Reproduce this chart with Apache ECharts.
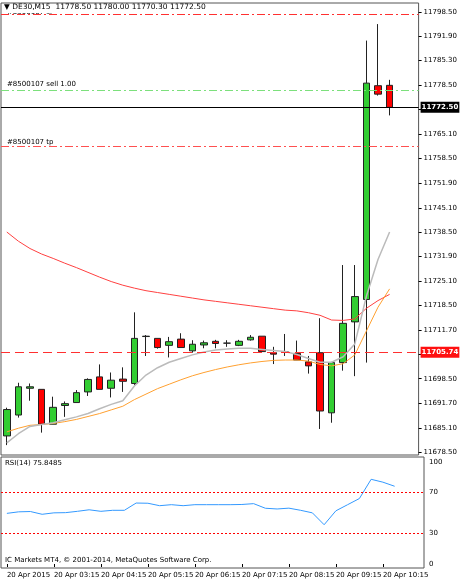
<!DOCTYPE html>
<html>
<head>
<meta charset="utf-8">
<script src="https://cdn.jsdelivr.net/npm/echarts@6/dist/echarts.min.js"></script>
<style>html,body{margin:0;padding:0;background:#fff}#chart{width:460px;height:582px}</style>
</head>
<body>
<div id="chart"></div>
<script>
var times = ['20 Apr 2015','02:30','02:45','03:00','20 Apr 03:15','03:30','03:45','04:00','20 Apr 04:15','04:30','04:45','05:00',
  '20 Apr 05:15','05:30','05:45','06:00','20 Apr 06:15','06:30','06:45','07:00','20 Apr 07:15','07:30','07:45','08:00',
  '20 Apr 08:15','08:30','08:45','09:00','20 Apr 09:15','09:30','09:45','10:00','20 Apr 10:15','10:30','10:45','11:00'];
// open, close, low, high
var ohlc = [
  [11682.9,11690.1,11680.4,11690.6],[11688.6,11696.3,11687.9,11697.4],[11695.9,11696.3,11692.5,11697.2],
  [11695.6,11686.1,11683.8,11695.6],[11686.1,11690.7,11686.1,11693.6],[11691.2,11691.7,11688.1,11692.3],
  [11692.0,11694.7,11692.0,11695.4],[11694.9,11698.3,11693.8,11698.6],[11699.0,11695.6,11695.6,11702.4],
  [11695.9,11698.1,11693.4,11700.2],[11698.4,11697.8,11694.9,11701.6],[11697.2,11709.5,11696.8,11716.6],
  [11710.0,11710.1,11704.7,11710.4],[11709.5,11707.0,11706.7,11709.5],[11707.6,11708.6,11704.3,11709.9],
  [11709.3,11707.0,11707.0,11710.9],[11706.1,11707.9,11705.6,11709.0],[11707.7,11708.3,11706.8,11708.9],
  [11708.7,11708.1,11706.8,11709.1],[11708.2,11708.2,11707.2,11709.0],[11707.6,11708.7,11707.4,11709.1],
  [11709.1,11709.8,11708.9,11710.4],[11710.1,11705.9,11705.9,11710.1],[11705.6,11705.2,11702.5,11707.2],
  [11705.8,11705.8,11704.7,11710.7],[11705.4,11703.6,11703.6,11708.9],[11703.1,11702.0,11699.9,11704.7],
  [11705.6,11689.7,11684.8,11715.0],[11689.2,11702.9,11686.5,11703.1],[11702.9,11713.6,11700.7,11729.5],
  [11714.0,11720.9,11699.2,11729.5],[11720.1,11779.1,11702.9,11790.7],[11778.4,11776.1,11775.7,11795.2],
  [11778.5,11772.5,11770.3,11780.0]
];
var maFast = [11681,11683.5,11685.5,11686,11686.5,11687.3,11688.1,11689,11690.3,11691.5,11692.5,11696.5,11699.5,11701.5,11703,11704,
  11705,11705.8,11706.3,11706.6,11706.8,11706.8,11706.5,11706.2,11705.9,11705.1,11704,11703,11703,11704.5,11708,11721,11731,11738.5];
var maMid = [11684,11685,11685.8,11686,11686.3,11686.8,11687.4,11688.2,11689,11690,11691,11692.8,11694.3,11695.8,11697,11698.2,
  11699.3,11700.2,11701,11701.7,11702.3,11702.8,11703.2,11703.5,11703.6,11703.6,11703.3,11702.4,11702,11702.6,11705,11711.5,11718,11723];
var maSlow = [11738.5,11736,11734,11732.5,11731.3,11730,11728.8,11727.5,11726.2,11725,11724,11723.2,11722.5,11722,11721.5,11721,
  11720.5,11720,11719.6,11719.2,11718.8,11718.4,11718,11717.6,11717.2,11717,11716.5,11715.8,11714.5,11714.4,11714.8,11717.7,11719.8,11721.5];
var rsi = [49.5,51,51.3,48.6,50,50.2,51.5,53,51.5,52.5,52.5,59.6,59.4,57,58,57,58,58,58,58,58.2,59,54.5,53.8,54.6,52.5,50,38.4,52,58,64,82.8,80,76];
var priceTicks = [11678.5,11685.1,11691.7,11698.5,11705.1,11711.7,11718.5,11725.1,11731.9,11738.5,11745.1,11751.9,11758.5,11765.1,11772.0,11778.5,11785.3,11791.9,11798.5];
var rsiTicks = [0,30,70,100];

var font = 'DejaVu Sans';
var chart = echarts.init(document.getElementById('chart'));
var dashDot = [8, 3, 2, 3];

function hline(y, color, type, label) {
  var o = { yAxis: y, symbol: 'none', lineStyle: { color: color, type: type, width: 1 }, label: { show: false } };
  if (label) o.label = { show: true, position: 'end', distance: 2, formatter: label.text, color: '#fff',
    backgroundColor: label.bg, padding: [2, 1], fontSize: 7, fontFamily: font, fontWeight: 'bold' };
  return o;
}

chart.setOption({
  animation: false,
  grid: [
    { left: 1, top: 3, width: 423, height: 452, show: true, borderColor: '#555', borderWidth: 1 },
    { left: 1, top: 457, width: 423, height: 111, show: true, borderColor: '#555', borderWidth: 1 }
  ],
  xAxis: [
    { type: 'category', data: times, gridIndex: 0, boundaryGap: true, axisLine: { show: false }, axisTick: { show: false }, axisLabel: { show: false } },
    { type: 'category', data: times, gridIndex: 1, boundaryGap: true, axisLine: { show: false },
      axisTick: { show: true, interval: 3, alignWithLabel: true, length: 3, lineStyle: { color: '#000' } },
      axisLabel: { interval: 3, hideOverlap: false, align: 'left', margin: 4, fontSize: 7, fontFamily: font, color: '#000' } }
  ],
  yAxis: [
    { type: 'value', gridIndex: 0, position: 'right', min: 11677.7, max: 11800.95, splitLine: { show: false },
      axisLine: { show: false }, axisTick: { show: true, length: 3, customValues: priceTicks, lineStyle: { color: '#000' } },
      axisLabel: { customValues: priceTicks, fontSize: 7, fontFamily: font, color: '#000', margin: 5,
        formatter: function (v) { return v.toFixed(2); } } },
    { type: 'value', gridIndex: 1, position: 'right', min: -3.9, max: 104.6, splitLine: { show: false },
      axisLine: { show: false }, axisTick: { show: false },
      axisLabel: { customValues: rsiTicks, fontSize: 7, fontFamily: font, color: '#000', margin: 5 } }
  ],
  series: [
    { type: 'candlestick', data: ohlc, barWidth: 7,
      itemStyle: { color: '#32CD32', color0: '#FF0000', borderColor: '#222', borderColor0: '#222', borderWidth: 1 },
      markLine: { silent: true, symbol: 'none', animation: false, data: [
        hline(11798.0, '#FF3030', dashDot),
        hline(11777.2, '#7CE07C', dashDot),
        hline(11772.5, '#000', 'solid', { text: '11772.50', bg: '#000' }),
        hline(11762.0, '#FF5050', dashDot),
        hline(11705.74, '#FF3030', [9, 5], { text: '11705.74', bg: '#FF1010' })
      ] } },
    { type: 'line', data: maSlow, symbol: 'none', lineStyle: { color: '#FF4040', width: 1 } },
    { type: 'line', data: maMid, symbol: 'none', lineStyle: { color: '#FFA030', width: 1 } },
    { type: 'line', data: maFast, symbol: 'none', lineStyle: { color: '#BBBBBB', width: 1.5 } },
    { type: 'line', xAxisIndex: 1, yAxisIndex: 1, data: rsi, symbol: 'none', lineStyle: { color: '#3399FF', width: 1 },
      markLine: { silent: true, symbol: 'none', animation: false, label: { show: false },
        lineStyle: { color: '#FF0000', type: [2, 2], width: 1 }, data: [{ yAxis: 70 }, { yAxis: 30 }] } }
  ],
  graphic: [
    { type: 'text', left: 7, top: 9, style: { text: '#8500107 sl', font: '7px ' + font, fill: '#000' } },
    { type: 'rect', left: 2, top: 4, shape: { width: 200, height: 9 }, style: { fill: '#fff' } },
    { type: 'text', left: 4, top: 3, style: { text: '▼ DE30,M15  11778.50 11780.00 11770.30 11772.50', font: '7.5px ' + font, fill: '#000' } },
    { type: 'text', left: 7, top: 81, style: { text: '#8500107 sell 1.00', font: '7px ' + font, fill: '#000' } },
    { type: 'text', left: 7, top: 139, style: { text: '#8500107 tp', font: '7px ' + font, fill: '#000' } },
    { type: 'text', left: 5, top: 460, style: { text: 'RSI(14) 75.8485', font: '7px ' + font, fill: '#000' } },
    { type: 'text', left: 5, top: 557, style: { text: 'IC Markets MT4, © 2001-2014, MetaQuotes Software Corp.', font: '7px ' + font, fill: '#000' } }
  ]
});
</script>
</body>
</html>
